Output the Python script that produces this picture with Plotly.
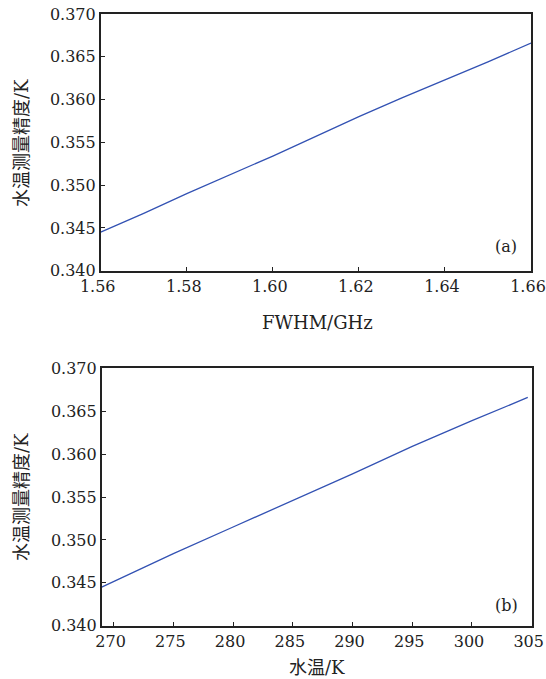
import plotly.graph_objects as go

# ---- data ----
fwhm_ghz = [1.56, 1.57, 1.58, 1.59, 1.60, 1.61, 1.62, 1.63, 1.64, 1.65, 1.66]
precision_a = [0.3445, 0.3467, 0.3490, 0.3512, 0.3534, 0.3557, 0.3580, 0.3602, 0.3623, 0.3644, 0.3666]

water_temp_k = [269.0, 275, 280, 285, 290, 295, 300, 304.67]
precision_b = [0.3445, 0.3484, 0.3515, 0.3546, 0.3577, 0.3609, 0.3639, 0.3666]

x_ticks_a = [1.56, 1.58, 1.60, 1.62, 1.64, 1.66]
x_ticks_b = [270, 275, 280, 285, 290, 295, 300, 305]
y_ticks = [0.340, 0.345, 0.350, 0.355, 0.360, 0.365, 0.370]

W, H = 546, 679
SERIF = "DejaVu Serif, Liberation Serif, serif"
CJK = "Noto Sans CJK SC, sans-serif"
LINE_COLOR = "#3352b3"
AX_COLOR = "#222222"
TXT = "#222222"

def px(x):
    return x / W

def py(y):
    return 1 - y / H

fig = go.Figure()
fig.add_trace(go.Scatter(x=fwhm_ghz, y=precision_a, mode="lines",
                         line=dict(color=LINE_COLOR, width=1.3),
                         xaxis="x", yaxis="y", showlegend=False))
fig.add_trace(go.Scatter(x=water_temp_k, y=precision_b, mode="lines",
                         line=dict(color=LINE_COLOR, width=1.3),
                         xaxis="x2", yaxis="y2", showlegend=False))

common = dict(showgrid=False, zeroline=False, showline=True, linecolor=AX_COLOR,
              linewidth=1.6, mirror=True, ticks="inside", ticklen=4,
              tickcolor=AX_COLOR, tickwidth=1, automargin=False,
              ticklabeloverflow="allow",
              tickfont=dict(family=SERIF, size=16, color=TXT))

fig.update_layout(
    template="none",
    width=W, height=H,
    margin=dict(l=0, r=0, t=0, b=0, pad=0),
    paper_bgcolor="white", plot_bgcolor="white",
    xaxis=dict(domain=[px(100.7), px(531)], range=[1.56, 1.66],
               tickvals=x_ticks_a, tickformat=".2f", anchor="y",
               ticklabelshift=-3, **common),
    yaxis=dict(domain=[py(270.7), py(14)], range=[0.340, 0.370],
               tickvals=y_ticks, tickformat=".3f", anchor="x", **common),
    xaxis2=dict(domain=[px(101.7), px(531.7)], range=[269, 305],
                tickvals=x_ticks_b, anchor="y2", ticklabelshift=-3, **common),
    yaxis2=dict(domain=[py(625.7), py(368.3)], range=[0.340, 0.370],
                tickvals=y_ticks, tickformat=".3f", anchor="x2", **common),
)

ytitle = ("<span style='font-family:Noto Sans CJK SC'>水温测量精度</span>"
          "<span style='font-family:DejaVu Serif'>/K</span>")
xtitle_b = ("<span style='font-family:Noto Sans CJK SC'>水温</span>"
            "<span style='font-family:DejaVu Serif'>/K</span>")

ann = [
    dict(text=ytitle, x=px(20), y=py(143), textangle=-90,
         font=dict(family=CJK, size=18, color=TXT)),
    dict(text=ytitle, x=px(20), y=py(497), textangle=-90,
         font=dict(family=CJK, size=18, color=TXT)),
    dict(text="FWHM/GHz", x=px(317), y=py(322),
         font=dict(family=SERIF, size=18, color=TXT)),
    dict(text=xtitle_b, x=px(317), y=py(666),
         font=dict(family=CJK, size=18, color=TXT)),
    dict(text="(a)", x=px(506), y=py(246.7),
         font=dict(family=SERIF, size=16, color=TXT)),
    dict(text="(b)", x=px(506), y=py(605),
         font=dict(family=SERIF, size=16, color=TXT)),
]
for a in ann:
    fig.add_annotation(xref="paper", yref="paper", showarrow=False,
                       xanchor="center", yanchor="middle", **a)

# remove the default 8px body margin so the figure fills the window
fig.write_html("out.html",
               config={"displayModeBar": False},
               post_script="document.body.style.margin='0';document.body.style.overflow='hidden';")
